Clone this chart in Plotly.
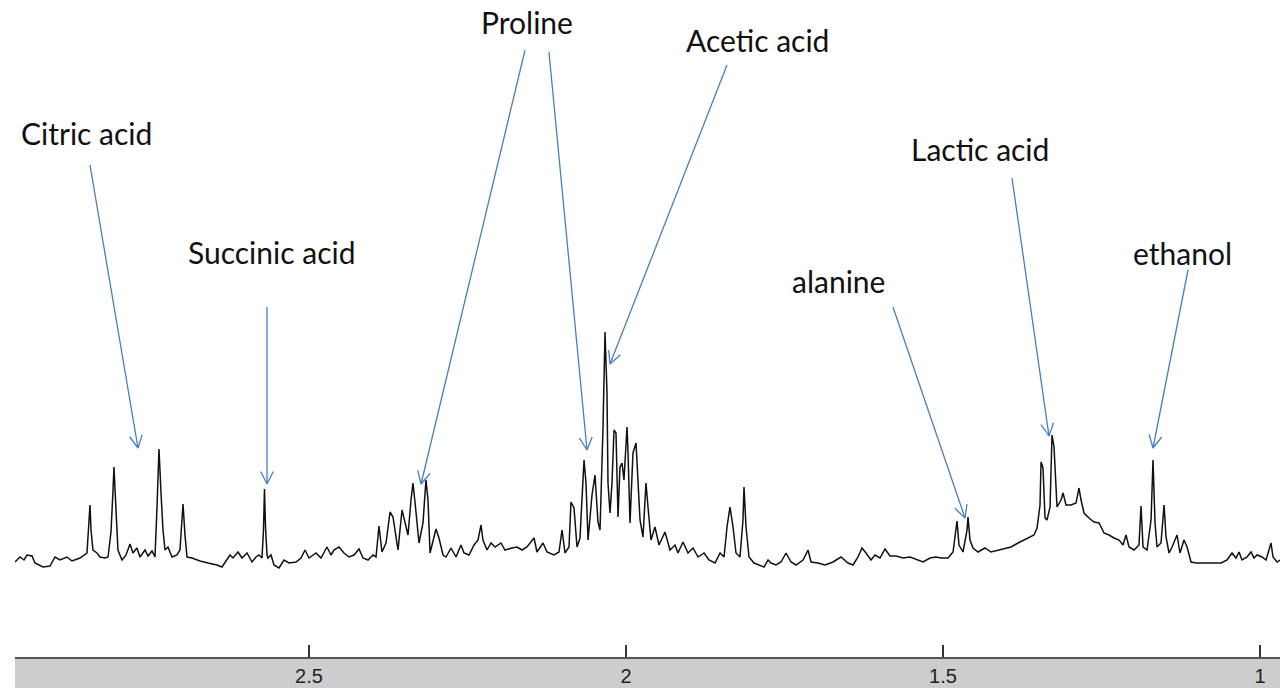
import math
import plotly.graph_objects as go

# 1H NMR spectrum trace: chemical shift (ppm) and signal intensity (a.u.)
shift_ppm = [
    2.9637, 2.9558, 2.9495, 2.9448, 2.9369, 2.9322, 2.9196, 2.9085, 2.9006, 2.8927,
    2.8817, 2.8738, 2.8612, 2.8533, 2.8502, 2.8454, 2.8438, 2.8407, 2.8344, 2.8297,
    2.8218, 2.8170, 2.8123, 2.8091, 2.8076, 2.8044, 2.8013, 2.7950, 2.7886, 2.7823,
    2.7776, 2.7713, 2.7666, 2.7587, 2.7539, 2.7476, 2.7429, 2.7397, 2.7366, 2.7334,
    2.7303, 2.7271, 2.7224, 2.7161, 2.7082, 2.7035, 2.7003, 2.6987, 2.6956, 2.6924,
    2.6845, 2.6719, 2.6593, 2.6451, 2.6372, 2.6246, 2.6199, 2.6120, 2.6057, 2.5978,
    2.5899, 2.5836, 2.5789, 2.5741, 2.5718, 2.5702, 2.5686, 2.5662, 2.5647, 2.5599,
    2.5552, 2.5473, 2.5394, 2.5315, 2.5205, 2.5126, 2.5063, 2.5000, 2.4890, 2.4811,
    2.4716, 2.4653, 2.4606, 2.4527, 2.4448, 2.4369, 2.4290, 2.4211, 2.4148, 2.4069,
    2.3991, 2.3943, 2.3896, 2.3849, 2.3785, 2.3722, 2.3675, 2.3596, 2.3533, 2.3502,
    2.3438, 2.3391, 2.3360, 2.3328, 2.3265, 2.3202, 2.3155, 2.3123, 2.3091, 2.2997,
    2.2950, 2.2886, 2.2839, 2.2760, 2.2681, 2.2603, 2.2555, 2.2476, 2.2397, 2.2334,
    2.2287, 2.2256, 2.2192, 2.2129, 2.2066, 2.1972, 2.1909, 2.1798, 2.1719, 2.1640,
    2.1562, 2.1451, 2.1404, 2.1309, 2.1246, 2.1136, 2.1057, 2.1009, 2.0962, 2.0899,
    2.0868, 2.0820, 2.0773, 2.0726, 2.0662, 2.0631, 2.0599, 2.0536, 2.0489, 2.0442,
    2.0410, 2.0363, 2.0331, 2.0300, 2.0284, 2.0252, 2.0221, 2.0189, 2.0158, 2.0126,
    2.0095, 2.0063, 2.0032, 1.9984, 1.9968, 1.9937, 1.9890, 1.9842, 1.9779, 1.9732,
    1.9685, 1.9653, 1.9606, 1.9543, 1.9480, 1.9385, 1.9306, 1.9227, 1.9180, 1.9101,
    1.9022, 1.8943, 1.8864, 1.8770, 1.8691, 1.8596, 1.8517, 1.8454, 1.8407, 1.8360,
    1.8312, 1.8265, 1.8202, 1.8155, 1.8139, 1.8107, 1.8060, 1.7981, 1.7902, 1.7823,
    1.7760, 1.7713, 1.7634, 1.7555, 1.7476, 1.7397, 1.7319, 1.7208, 1.7129, 1.7082,
    1.6972, 1.6861, 1.6735, 1.6609, 1.6498, 1.6420, 1.6341, 1.6278, 1.6215, 1.6136,
    1.6073, 1.5994, 1.5915, 1.5836, 1.5741, 1.5631, 1.5521, 1.5426, 1.5315, 1.5205,
    1.5110, 1.5032, 1.4921, 1.4842, 1.4795, 1.4779, 1.4748, 1.4685, 1.4621, 1.4606,
    1.4574, 1.4527, 1.4448, 1.4338, 1.4243, 1.4132, 1.4022, 1.3927, 1.3817, 1.3722,
    1.3644, 1.3565, 1.3517, 1.3470, 1.3454, 1.3423, 1.3391, 1.3360, 1.3312, 1.3281,
    1.3249, 1.3218, 1.3202, 1.3139, 1.3107, 1.3060, 1.2981, 1.2902, 1.2855, 1.2823,
    1.2776, 1.2697, 1.2618, 1.2539, 1.2461, 1.2382, 1.2303, 1.2224, 1.2161, 1.2114,
    1.2066, 1.1987, 1.1909, 1.1877, 1.1845, 1.1782, 1.1719, 1.1688, 1.1656, 1.1625,
    1.1562, 1.1514, 1.1483, 1.1435, 1.1388, 1.1309, 1.1262, 1.1199, 1.1151, 1.1088,
    1.1009, 1.0915, 1.0773, 1.0615, 1.0520, 1.0442, 1.0379, 1.0331, 1.0284, 1.0205,
    1.0142, 1.0095, 1.0047, 0.9968, 0.9905, 0.9827, 0.9795, 0.9732, 0.9685,
]
intensity = [
    38, 43, 40, 45, 44, 37, 33, 34, 43, 40,
    43, 39, 42, 45, 47, 95, 70, 50, 47, 43,
    42, 43, 68, 110, 133, 90, 50, 40, 45, 56,
    47, 52, 43, 50, 44, 49, 43, 93, 151, 107,
    70, 50, 53, 43, 45, 50, 78, 96, 65, 43,
    42, 39, 37, 35, 33, 45, 42, 48, 42, 47,
    38, 43, 45, 42, 70, 111, 73, 45, 42, 45,
    35, 32, 40, 37, 38, 42, 50, 42, 47, 42,
    53, 45, 50, 53, 47, 43, 45, 51, 42, 40,
    45, 43, 74, 48, 57, 88, 83, 50, 90, 82,
    65, 100, 117, 98, 57, 77, 120, 100, 47, 71,
    62, 45, 43, 52, 43, 55, 47, 45, 55, 60,
    75, 60, 50, 57, 53, 57, 50, 52, 53, 50,
    53, 62, 48, 57, 48, 45, 48, 70, 47, 53,
    98, 92, 53, 62, 140, 117, 60, 105, 125, 78,
    70, 172, 268, 207, 117, 87, 117, 170, 167, 83,
    133, 137, 120, 173, 147, 77, 147, 157, 80, 63,
    117, 93, 60, 73, 55, 68, 50, 55, 47, 58,
    47, 52, 43, 47, 40, 37, 47, 43, 73, 93,
    73, 47, 43, 80, 113, 73, 43, 37, 35, 33,
    40, 37, 35, 38, 47, 38, 35, 40, 50, 38,
    37, 35, 38, 43, 37, 35, 43, 52, 47, 40,
    45, 42, 51, 44, 44, 42, 43, 41, 38, 42,
    43, 42, 42, 48, 70, 79, 55, 48, 70, 83,
    60, 52, 48, 52, 48, 50, 52, 53, 57, 60,
    62, 65, 72, 95, 138, 132, 82, 80, 93, 165,
    153, 100, 93, 100, 107, 95, 95, 97, 112, 100,
    87, 82, 78, 77, 67, 65, 62, 60, 55, 65,
    53, 50, 55, 94, 53, 50, 80, 140, 77, 53,
    57, 95, 63, 47, 53, 65, 47, 60, 53, 38,
    37, 37, 37, 37, 40, 47, 42, 48, 40, 43,
    48, 42, 45, 43, 40, 57, 43, 38, 40,
]

# Compound labels (text centre, in ppm / intensity units)
compound_names = ["Citric acid", "Succinic acid", "Proline", "Acetic acid",
                  "alanine", "Lactic acid", "ethanol"]
label_ppm = [2.8502, 2.5584, 2.1562, 1.7934, 1.6656, 1.4416, 1.1215]
label_int = [467, 348, 578, 560, 319, 451, 347]

# Pointer arrows: tail near the label, tip at the assigned signal
arrow_tail_ppm = [2.8454, 2.5662, 2.1593, 2.1215, 1.8407, 1.5789, 1.3912, 1.1136]
arrow_tail_int = [435, 293, 550, 548, 535, 293, 422, 330]
arrow_tip_ppm = [2.7697, 2.5662, 2.3233, 2.0615, 2.0252, 1.4653, 1.3328, 1.1688]
arrow_tip_int = [152, 116, 116, 150, 236, 82, 164, 152]

tick_vals = [2.5, 2, 1.5, 1]
tick_text = ["2.5", "2", "1.5", "1"]

# Figure geometry
W, H = 1280, 688
M_L, M_R, M_T, M_B = 15, 0, 0, 31
X_RANGE = [2.9637, 0.9685]
Y_RANGE = [-57, 600]
PLOT_W = W - M_L - M_R
PLOT_H = H - M_T - M_B

ARROW_COLOR = "#4A7EBB"
HEAD_LEN = 14
HEAD_HALF_ANGLE = math.radians(27)


def to_px(ppm, val):
    x = M_L + (ppm - X_RANGE[0]) / (X_RANGE[1] - X_RANGE[0]) * PLOT_W
    y = M_T + (Y_RANGE[1] - val) / (Y_RANGE[1] - Y_RANGE[0]) * PLOT_H
    return x, y


def to_data(x, y):
    ppm = X_RANGE[0] + (x - M_L) / PLOT_W * (X_RANGE[1] - X_RANGE[0])
    val = Y_RANGE[1] - (y - M_T) / PLOT_H * (Y_RANGE[1] - Y_RANGE[0])
    return ppm, val


fig = go.Figure()

fig.add_trace(go.Scatter(
    x=shift_ppm, y=intensity, mode="lines",
    line=dict(color="#111111", width=1.5),
    hoverinfo="skip",
))

# Arrows with open V heads, built in screen space so the heads keep their shape
ax_pts, ay_pts = [], []
for tp, ti, hp, hi in zip(arrow_tail_ppm, arrow_tail_int, arrow_tip_ppm, arrow_tip_int):
    tx, ty = to_px(tp, ti)
    hx, hy = to_px(hp, hi)
    dx, dy = hx - tx, hy - ty
    n = math.hypot(dx, dy)
    ux, uy = dx / n, dy / n
    arms = []
    for s in (1, -1):
        c, sn = math.cos(s * HEAD_HALF_ANGLE), math.sin(s * HEAD_HALF_ANGLE)
        rx, ry = ux * c - uy * sn, ux * sn + uy * c
        arms.append(to_data(hx - HEAD_LEN * rx, hy - HEAD_LEN * ry))
    ax_pts += [tp, hp, None, arms[0][0], hp, arms[1][0], None]
    ay_pts += [ti, hi, None, arms[0][1], hi, arms[1][1], None]

fig.add_trace(go.Scatter(
    x=ax_pts, y=ay_pts, mode="lines",
    line=dict(color=ARROW_COLOR, width=1.3),
    hoverinfo="skip",
))

for name, lp, li in zip(compound_names, label_ppm, label_int):
    fig.add_annotation(
        x=lp, y=li, xref="x", yref="y", text=name, showarrow=False,
        xanchor="center", yanchor="middle",
        font=dict(family="Lato, Open Sans, sans-serif", size=30, color="#111111"),
    )

# Grey band under the axis
fig.add_shape(
    type="rect", xref="paper", yref="paper",
    x0=0, x1=1, y0=-M_B / PLOT_H, y1=0,
    fillcolor="#cdcdcd", line=dict(width=0), layer="below",
)

fig.update_layout(
    width=W, height=H,
    margin=dict(l=M_L, r=M_R, t=M_T, b=M_B, pad=0),
    paper_bgcolor="white", plot_bgcolor="white",
    showlegend=False,
    xaxis=dict(
        range=X_RANGE, tickmode="array", tickvals=tick_vals, ticktext=tick_text,
        ticks="inside", ticklen=12, tickwidth=1.5, tickcolor="#333333",
        showline=True, linecolor="#555555", linewidth=2,
        showgrid=False, zeroline=False,
        tickfont=dict(family="Liberation Sans Narrow, Arial Narrow, Liberation Sans, sans-serif",
                      size=20, color="#222222"),
        fixedrange=True,
    ),
    yaxis=dict(range=Y_RANGE, visible=False, fixedrange=True),
)

fig.write_html("out.html")
